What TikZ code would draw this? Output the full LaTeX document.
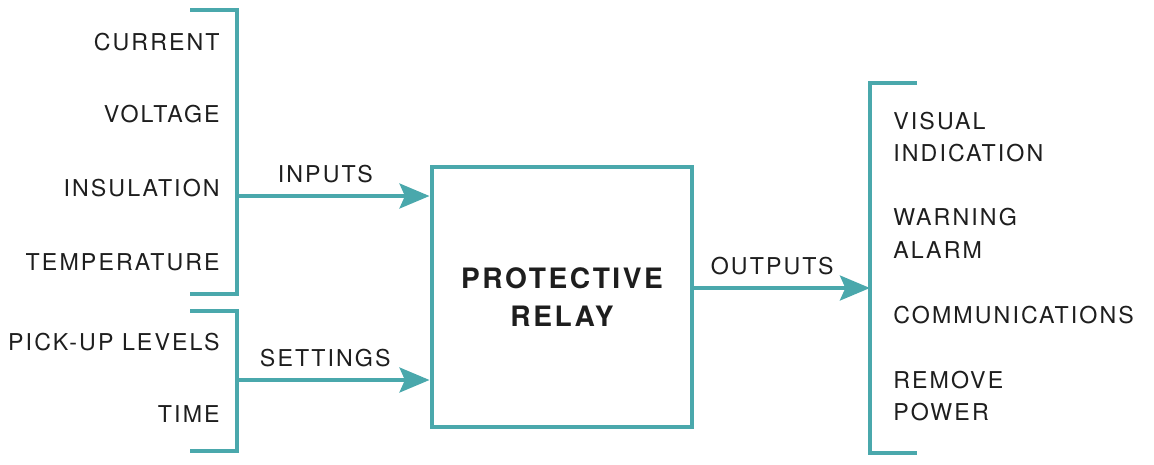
\documentclass[tikz,border=0pt]{standalone}
\usepackage{fontspec}
\setmainfont{TeX Gyre Heros}[LetterSpace=9]
\usetikzlibrary{arrows.meta}
\definecolor{relayteal}{RGB}{74,168,172}
\definecolor{relaytext}{RGB}{30,30,30}

\begin{document}
\begin{tikzpicture}[
    x=0.02cm, y=-0.02cm,
    line/.style={draw=relayteal, line width=2.8pt},
    lbl/.style={inner sep=0pt, text=relaytext, font=\fontsize{13.2}{18.7}\selectfont},
    arrlbl/.style={lbl, above=6pt, xshift=-0.16cm},
    >={Stealth[length=17pt, width=14pt, inset=3pt]}
]
    \useasboundingbox (0,0) rectangle (1154,464);

    % 中间的继电器方框
    \node[line, minimum width=5.2cm, minimum height=5.2cm, align=center,
          text=relaytext, font=\fontsize{16}{21.5}\selectfont\bfseries]
          (relay) at (562,297) {PROTECTIVE\\RELAY};

    % 左侧括号 (输入 / 设定)
    \draw[line] (190,10) -| (237,294) -- (190,294);
    \draw[line] (190,311) -| (237,451) -- (190,451);
    \coordinate (inb) at (237,196);
    \coordinate (setb) at (237,380);

    % 右侧括号 (输出)
    \draw[line] (917,83) -| (870,453) -- (917,453);

    % 输入标签
    \node[lbl, anchor=east] (cur)  at (220,42)  {CURRENT};
    \node[lbl, anchor=east] (volt) at (220,114) {VOLTAGE};
    \node[lbl, anchor=east] (ins)  at (220,188) {INSULATION};
    \node[lbl, anchor=east] (temp) at (220,262) {TEMPERATURE};
    \node[lbl, anchor=east] (pick) at (220,342) {PICK-UP LEVELS};
    \node[lbl, anchor=east] (time) at (220,414) {TIME};

    % 输出标签
    \node[lbl, anchor=west, align=left] (vis)  at (893,137) {VISUAL\\INDICATION};
    \node[lbl, anchor=west, align=left] (warn) at (893,233) {WARNING\\ALARM};
    \node[lbl, anchor=west]             (comm) at (893,315) {COMMUNICATIONS};
    \node[lbl, anchor=west, align=left] (rem)  at (893,396) {REMOVE\\POWER};

    % 箭头
    \draw[line, ->] (inb) -- node[arrlbl] {INPUTS} (inb -| relay.west);
    \draw[line, ->] (setb) -- node[arrlbl] {SETTINGS} (setb -| relay.west);
    \coordinate (outb) at (870,288);
    \draw[line, ->] (relay.east |- outb) -- node[arrlbl, xshift=-0.04cm] {OUTPUTS} (outb);

\end{tikzpicture}
\end{document}
